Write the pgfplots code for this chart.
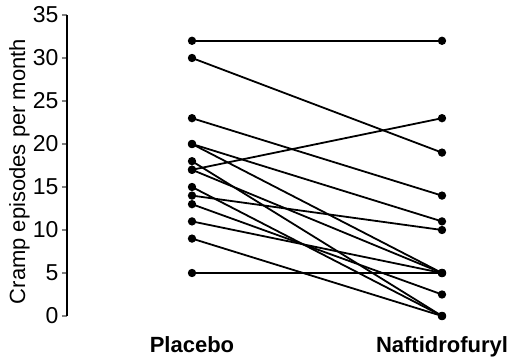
\documentclass[border=0pt]{standalone}
\usepackage{fontspec}
\setmainfont{Liberation Sans}
\usepackage{pgfplots}
\pgfplotsset{compat=1.18}
\tikzset{pt/.style={black, solid, line width=0.9pt, mark=*, mark size=1.6pt, mark options={solid, fill=black, draw=black}}}
\begin{document}
\begin{tikzpicture}
\useasboundingbox (-33.5pt,-20.5pt) rectangle (224pt,158pt);
\begin{axis}[
  at={(0pt,0pt)}, anchor=south west,
  scale only axis, width=212.5pt, height=150.5pt,
  xmin=-0.5, xmax=1.2, ymin=0, ymax=35,
  clip=false,
  axis y line*=left, axis x line*=bottom,
  x axis line style={draw=none},
  y axis line style={line width=0.8pt,-},
  xtick={0,1}, xticklabels={Placebo,Naftidrofuryl},
  xtick style={draw=none},
  xticklabel style={font=\fontsize{11}{13}\selectfont\bfseries, yshift=-4pt},
  ytick={0,5,...,35},
  ytick style={line width=0.8pt},
  tick align=outside, major tick length=2.5pt,
  yticklabel style={font=\fontsize{11.5}{13}\selectfont, xshift=1.8pt},
  /pgf/number format/assume math mode=true,
  ylabel={Cramp episodes per month},
  ylabel style={font=\fontsize{11}{13}\selectfont, at={(axis description cs:-0.112,0.48)}, anchor=center},
]
\addplot[pt] coordinates {(0,32) (1,32)};
\addplot[pt] coordinates {(0,30) (1,19)};
\addplot[pt] coordinates {(0,23) (1,14)};
\addplot[pt] coordinates {(0,20) (1,11)};
\addplot[pt] coordinates {(0,20) (1,5)};
\addplot[pt] coordinates {(0,18) (1,0)};
\addplot[pt] coordinates {(0,17) (1,23)};
\addplot[pt] coordinates {(0,17) (1,5)};
\addplot[pt] coordinates {(0,15) (1,0)};
\addplot[pt] coordinates {(0,14) (1,10)};
\addplot[pt] coordinates {(0,13) (1,2.5)};
\addplot[pt] coordinates {(0,11) (1,5)};
\addplot[pt] coordinates {(0,9) (1,0)};
\addplot[pt] coordinates {(0,5) (1,5)};
\end{axis}
\end{tikzpicture}
\end{document}
